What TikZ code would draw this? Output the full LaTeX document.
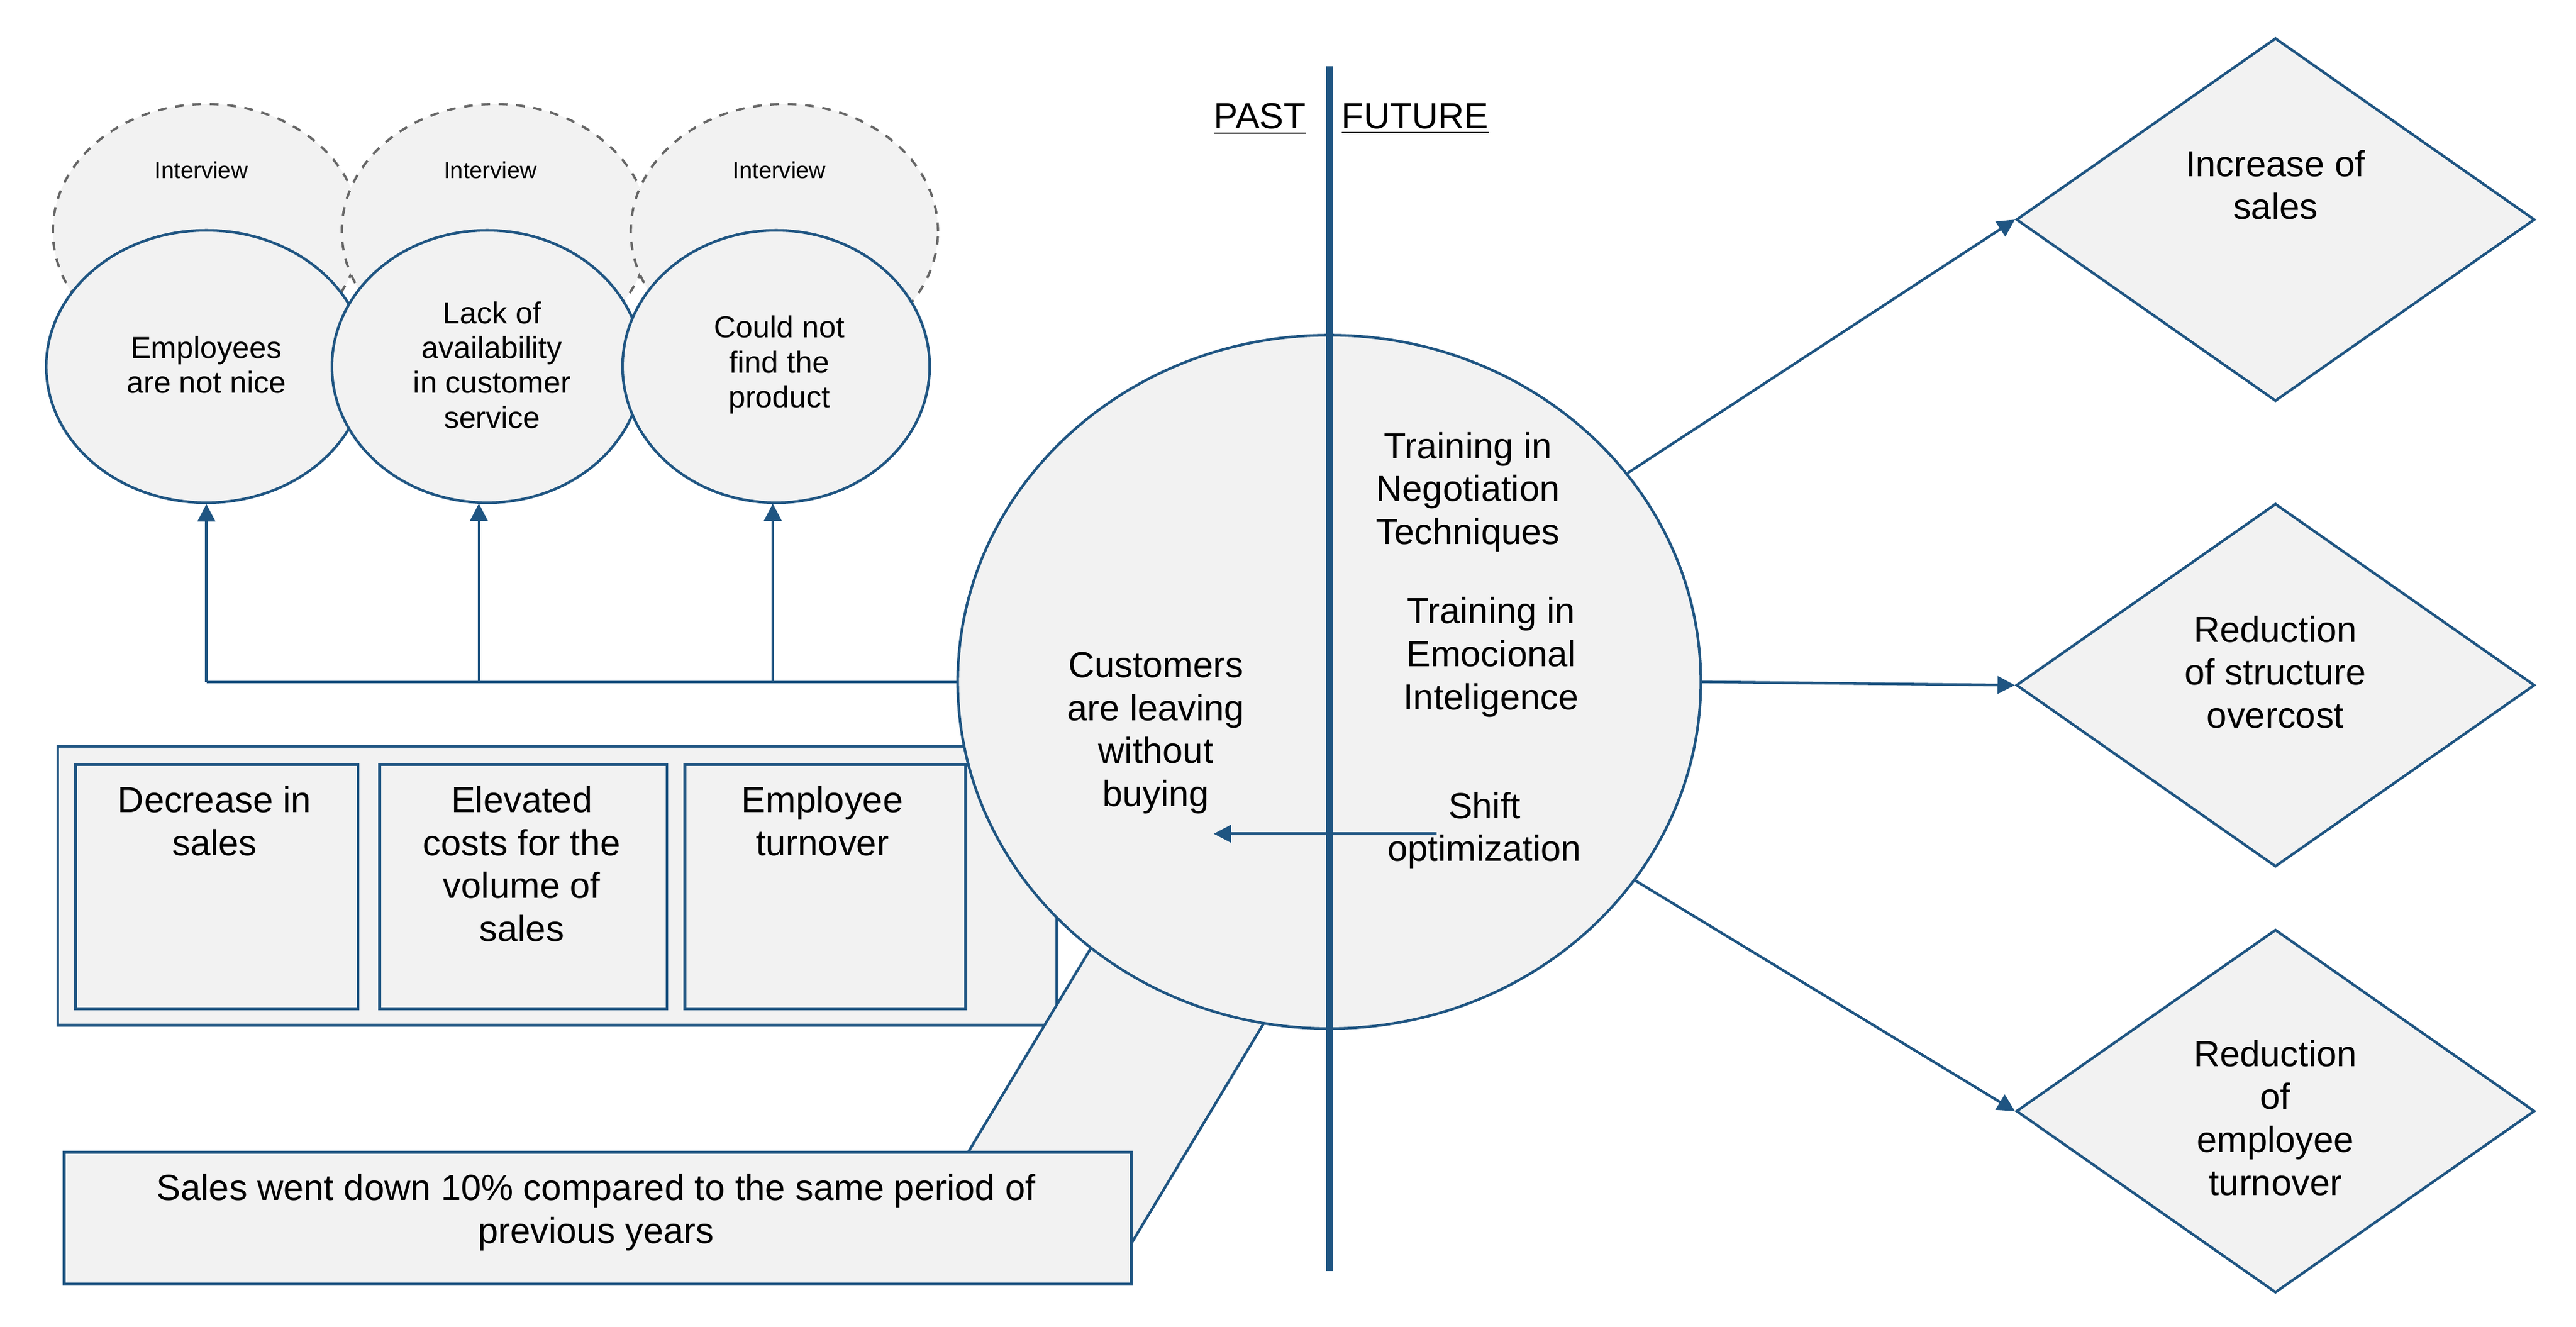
\documentclass[tikz,border=0pt]{standalone}
\usepackage{fontspec}
\setmainfont{Liberation Sans}
\usetikzlibrary{shapes.geometric,arrows.meta}
\definecolor{bl}{HTML}{1F5582}
\definecolor{gf}{HTML}{F2F2F2}
\definecolor{dg}{HTML}{666666}
\begin{document}
\begin{tikzpicture}[x=0.02cm,y=-0.02cm,
 big/.style={font=\fontsize{12.5}{14.8}\selectfont,align=center},
 mid/.style={font=\fontsize{10.5}{12}\selectfont,align=center},
 sm/.style={font=\fontsize{8}{9}\selectfont},
 dsh/.style={ellipse,draw=dg,dashed,fill=gf,line width=0.8pt,inner sep=0},
 cause/.style={ellipse,draw=bl,fill=gf,line width=0.9pt,inner sep=0},
 box/.style={draw=bl,fill=gf,line width=1pt},
 dia/.style={diamond,draw=bl,fill=gf,line width=0.9pt,inner sep=0,minimum width=314*0.02cm,minimum height=220*0.02cm,aspect=1.43},
 arr/.style={-{Triangle[length=6pt,width=6pt]},draw=bl,line width=0.9pt}]
\useasboundingbox (0,0) rectangle (1560,803.4);
% dashed interview ellipses
\foreach \x/\n in {125/d1,300/d2,475/d3}{
 \node[dsh,minimum width=186*0.02cm,minimum height=154*0.02cm] (\n) at (\x,140) {};
 \node[sm] at (\x-3,103) {Interview};}
\node[cause,minimum width=194*0.02cm,minimum height=165*0.02cm] (c1) at (125,222) {};
\node[mid] at (125,221) {Employees\\are not nice};
\node[cause,minimum width=188*0.02cm,minimum height=165*0.02cm] (c2) at (295,222) {};
\node[mid] at (298,221) {Lack of\\availability\\in customer\\service};
\node[cause,minimum width=186*0.02cm,minimum height=165*0.02cm] (c3) at (470,222) {};
\node[mid] at (472,221) {Could not\\find the\\product};
% outer rect and boxes
\draw[box] (35,452) rectangle (640,621);
\node[box,minimum width=171*0.02cm,minimum height=148*0.02cm,anchor=north west] (b1) at (45,462) {};
\node[box,minimum width=174*0.02cm,minimum height=148*0.02cm,anchor=north west] (b2) at (229,462) {};
\node[box,minimum width=170*0.02cm,minimum height=148*0.02cm,anchor=north west] (b3) at (414,462) {};
\node[big,anchor=north] at (130,470) {Decrease in\\sales};
\node[big,anchor=north] at (316,470) {Elevated\\costs for the\\volume of\\sales};
\node[big,anchor=north] at (498,470) {Employee\\turnover};
% callout tail
\fill[gf] (585,700) -- (662,572) -- (770,612) -- (684,755) -- cycle;
\draw[bl,line width=0.9pt] (585,700) -- (662,572) (770,612) -- (684,755);
% main ellipse
\node[cause,minimum width=450*0.02cm,minimum height=420*0.02cm] (m) at (805,413) {};
\node[big] at (700,444) {Customers\\are leaving\\without\\buying};
\node[big] at (889,298) {Training in\\Negotiation\\Techniques};
\node[big] at (903,398) {Training in\\Emocional\\Inteligence};
\node[big] (sh) at (899,503) {Shift\\optimization};
\coordinate (st) at (870,505);
\coordinate (se) at (735,505);
% callout box
\node[box,minimum width=646*0.02cm,minimum height=80*0.02cm,anchor=north west,inner sep=0] (cb) at (38,697) {};
\node[big,anchor=north] at (361,705) {Sales went down 10\% compared to the same period of\\previous years};
% divider
\draw[bl,line width=2.2pt] (805,40) -- (805,770);
\node[big] at (763,72) {\underline{PAST}};
\node[big] at (857,72) {\underline{FUTURE}};
% links to causes
\draw[bl,line width=0.9pt] (m.west) -- (125,413);
\draw[arr] (125,413) -- (c1.south);
\draw[arr] (290,413) -- (290,305);
\draw[arr] (468,413) -- (468,305);
\draw[arr] (st) -- (se);
% diamonds
\node[dia] (k1) at (1378,133) {};
\node[big] at (1378,112) {Increase of\\sales};
\node[dia] (k2) at (1378,415) {};
\node[big] at (1378,407) {Reduction\\of structure\\overcost};
\node[dia] (k3) at (1378,673) {};
\node[big] at (1378,677) {Reduction\\of\\employee\\turnover};
\draw[arr] (m.35) -- (k1.west);
\draw[arr] (m.east) -- (k2.west);
\draw[arr] (m.-33) -- (k3.west);
\end{tikzpicture}
\end{document}
